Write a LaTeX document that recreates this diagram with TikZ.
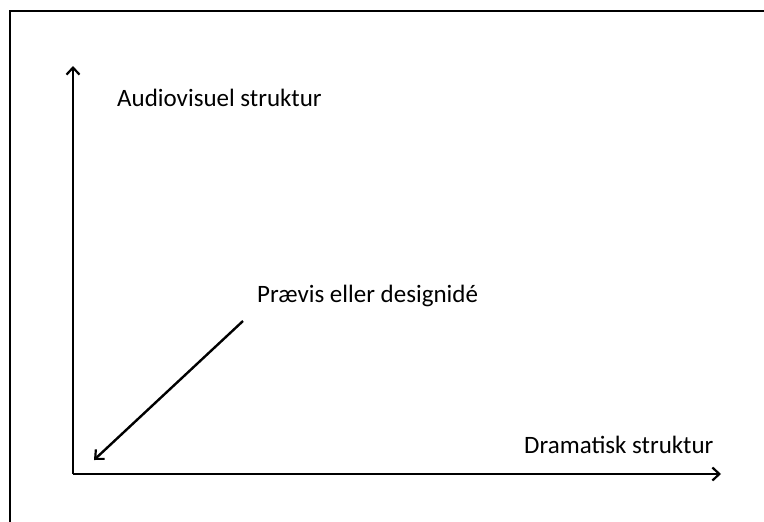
\documentclass[tikz,border=0pt]{standalone}
\usepackage{fontspec}
\setmainfont{Carlito}
\usetikzlibrary{arrows.meta}
\begin{document}
\begin{tikzpicture}[x=1pt,y=-1pt,
  axis/.style={line width=2.4pt,-{Straight Barb[length=7pt,width=13pt,line width=2.2pt]}},
  lbl/.style={font=\fontsize{25}{29}\selectfont,anchor=west,inner sep=0pt}]
\useasboundingbox (0,0) rectangle (764,522);
\draw[line width=2.6pt] (10,522) -- (10,11) -- (764,11);
\coordinate (o) at (73,474);
\coordinate (ytop) at (73,66);
\coordinate (xend) at (721,474);
\draw[axis] (o) -- (ytop);
\draw[axis] (o) -- (xend);
\node[lbl] (av) at (117,98) {Audiovisuel struktur};
\node[lbl] (pd) at (257,296) {Prævis eller designidé};
\node[lbl] (ds) at (524,445) {Dramatisk struktur};
\coordinate (ds1) at (243,321);
\coordinate (ds2) at (94,460);
\draw[axis] (ds1) -- (ds2);
\end{tikzpicture}
\end{document}
